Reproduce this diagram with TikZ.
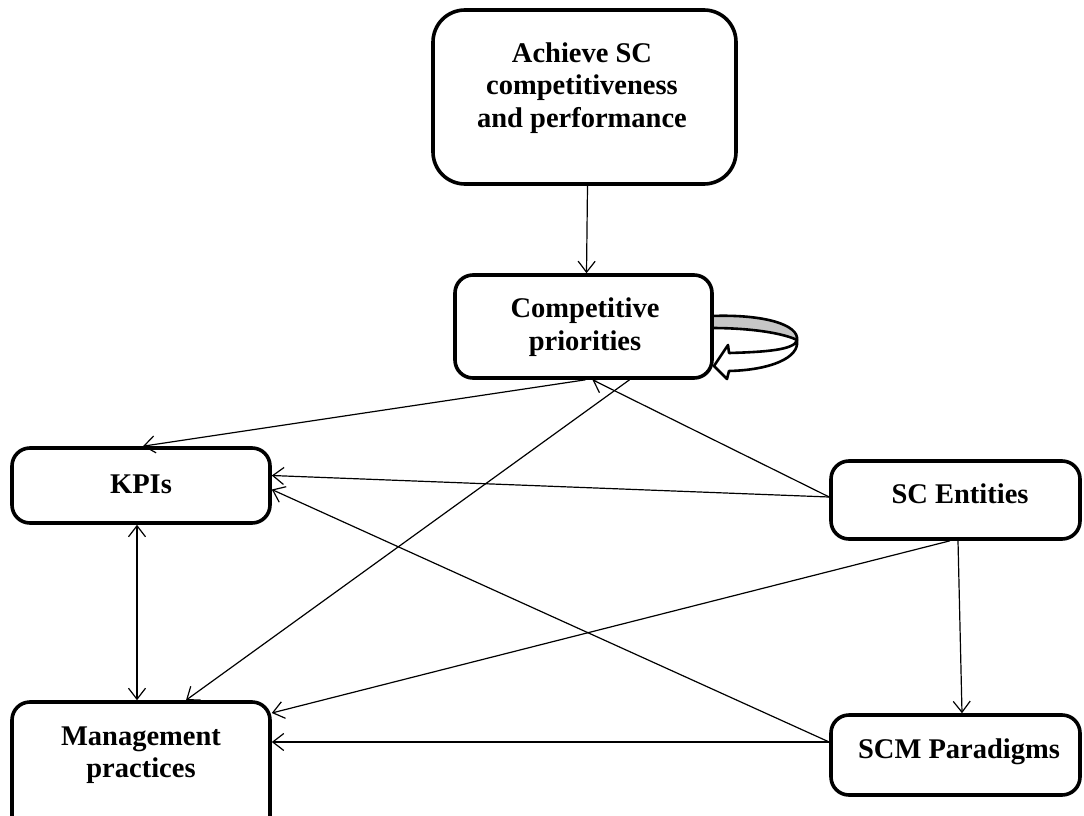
\documentclass[tikz,border=0pt]{standalone}
\usepackage{fontspec}
\setmainfont{Liberation Serif}
\usetikzlibrary{arrows.meta}
\begin{document}
\begin{tikzpicture}[x=1pt,y=-1pt,
  box/.style={draw, line width=3.6pt, rounded corners=18pt, inner sep=0pt, fill=white},
  lbl/.style={font=\fontsize{28.5}{32.5}\selectfont\bfseries, align=center, inner sep=0pt},
  barb/.tip={Straight Barb[length=11pt,width=17pt,line width=1.2pt]},
  conn/.style={line width=1.2pt, -barb},
  loopface/.style={draw, line width=2.6pt, line join=round},
  ]
\useasboundingbox (0,0) rectangle (1084,816);

% self-referencing loop on the right of the competitive priorities box
\path[loopface, fill=gray!45]
  (711,316) .. controls (765,314) and (799,325) .. (797,340)
            .. controls (785,334) and (755,328) .. (711,328) -- cycle;
\path[loopface, fill=white]
  (797,340) .. controls (795,350) and (765,352) .. (729,353)
  -- (728,345) -- (714,366) -- (727,379) -- (729,371)
  .. controls (770,370) and (800,358) .. (797,340) -- cycle;

% boxes
\node[box, rounded corners=32pt, minimum width=303pt, minimum height=174pt] (ach) at (584.5,97) {};
\node[box, minimum width=257pt, minimum height=103pt] (comp) at (583.5,326.5) {};
\node[box, minimum width=258pt, minimum height=75pt] (kpi) at (141,485.5) {};
\node[box, minimum width=249pt, minimum height=78pt] (ent) at (955.5,500) {};
\node[box, minimum width=258pt, minimum height=140pt] (mgmt) at (141,772) {};
\node[box, minimum width=249pt, minimum height=80pt] (par) at (955.5,755) {};

% labels
\node[lbl] (achtext) at (582,88) {Achieve SC\\competitiveness\\and performance};
\node[lbl] (comptext) at (585,327) {Competitive\\priorities};
\node[lbl] (kpitext) at (141,484) {KPIs};
\node[lbl] (enttext) at (960,494) {SC Entities};
\node[lbl] (mgmttext) at (141,755) {Management\\practices};
\node[lbl] (partext) at (959,752) {SCM Paradigms};

% connectors
\draw[conn] ([xshift=3pt]ach.south) -- ([xshift=3pt]comp.north);
\draw[conn] ([xshift=2pt]comp.south) -- ([xshift=2pt]kpi.north);
\draw[conn] ([xshift=46pt]comp.south) -- ([xshift=45pt]mgmt.north);
\draw[conn] ([yshift=3pt]ent.west) -- ([xshift=9pt]comp.south);
\draw[conn] ([yshift=3pt]ent.west) -- ([yshift=10pt]kpi.east);
\draw[conn] ([yshift=13pt]par.west) -- ([yshift=-4pt]kpi.east);
\draw[conn] ([xshift=-5.5pt]ent.south) -- ([yshift=59pt]mgmt.east);
\draw[conn] ([xshift=2.5pt]ent.south) -- ([xshift=6.5pt]par.north);
\draw[conn] ([yshift=13pt]par.west) -- ([yshift=30pt]mgmt.east);
\draw[conn, barb-barb] ([xshift=-4pt]kpi.south) -- ([xshift=-4pt]mgmt.north);
\end{tikzpicture}
\end{document}
